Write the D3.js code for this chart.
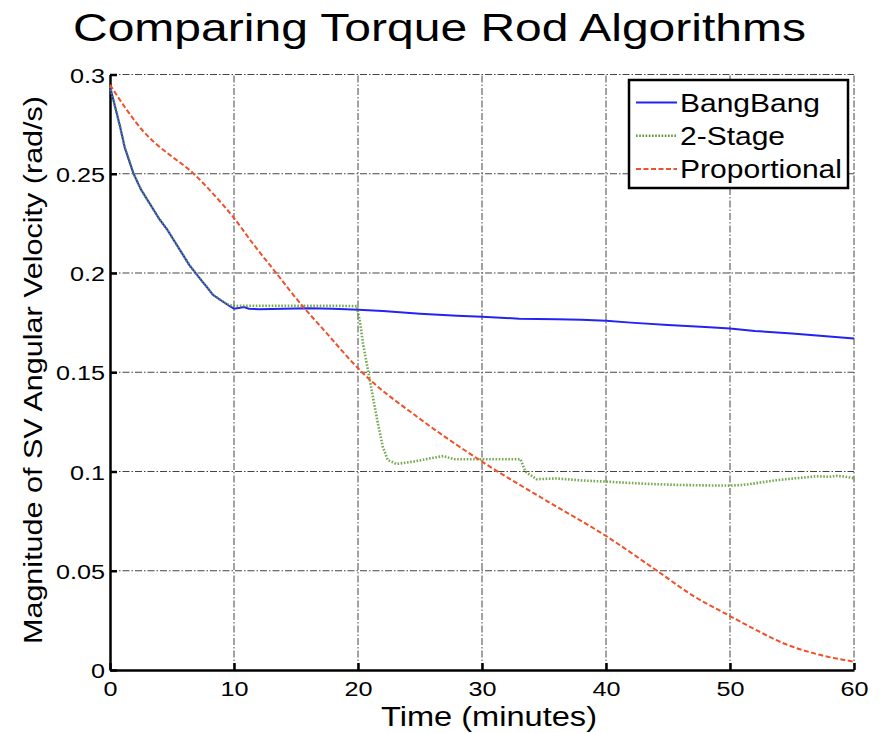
<!DOCTYPE html>
<html>
<head>
<meta charset="utf-8">
<script src="https://cdn.jsdelivr.net/npm/d3@7/dist/d3.min.js"></script>
<style>
  body { margin: 0; background: #fff; }
  svg { font-family: "Liberation Sans", Arial, sans-serif; }
</style>
</head>
<body>
<svg id="chart" width="884" height="733"></svg>
<script>
// values: [minutes, rad/s]
const bangBang = [
  [0, 0.294], [0.4, 0.284], [0.8, 0.274], [1.2, 0.263], [1.9, 0.250], [2.5, 0.242],
  [3.2, 0.235], [4.0, 0.227], [4.6, 0.222], [5.2, 0.216], [5.8, 0.210], [6.4, 0.204],
  [6.9, 0.200], [7.4, 0.196], [7.8, 0.193], [8.3, 0.189], [9.0, 0.186], [9.6, 0.1835],
  [10.0, 0.182], [10.5, 0.1825], [10.8, 0.1829], [11.2, 0.182], [12, 0.1818], [14, 0.182],
  [16, 0.1823], [18, 0.182], [20, 0.1815], [22, 0.1808], [25, 0.1795], [28, 0.1785],
  [30, 0.178], [33, 0.177], [36, 0.1767], [38, 0.1765], [40, 0.176], [42, 0.175],
  [45, 0.1738], [48, 0.1728], [50, 0.172], [52, 0.1708], [55, 0.1695], [58, 0.168], [60, 0.167]
];
const twoStage = [
  [0, 0.294], [0.4, 0.284], [0.8, 0.274], [1.2, 0.263], [1.9, 0.250], [2.5, 0.242],
  [3.2, 0.235], [4.0, 0.227], [4.6, 0.222], [5.2, 0.216], [5.8, 0.210], [6.4, 0.204],
  [6.9, 0.200], [7.4, 0.196], [7.8, 0.193], [8.3, 0.189], [9.0, 0.186], [9.6, 0.1838],
  [10.0, 0.1834], [12, 0.1835], [15, 0.1835], [18, 0.1835], [19.9, 0.1833],
  [20.16, 0.1755], [20.4, 0.1646], [20.8, 0.1512], [21.2, 0.1377], [21.6, 0.1243],
  [22.0, 0.1125], [22.4, 0.1058], [23.1, 0.1038], [24.5, 0.105], [25.8, 0.1066],
  [26.9, 0.1078], [27.7, 0.1062], [30, 0.1062], [33.1, 0.1062], [33.5, 0.100],
  [34.4, 0.0961], [36, 0.0965], [38, 0.0955], [40, 0.0949], [42, 0.0942], [44, 0.0936],
  [46, 0.0932], [48, 0.093], [50, 0.0929], [51, 0.0932], [52, 0.094], [53, 0.095],
  [54, 0.0958], [55, 0.0964], [56, 0.097], [57, 0.0976], [58, 0.0973], [58.6, 0.0978],
  [59.3, 0.0974], [60, 0.0966]
];
const proportional = [
  [0, 0.2948], [1.35, 0.2822], [2.7, 0.2713], [3.8, 0.2646], [4.8, 0.2596], [6.7, 0.2503],
  [8.3, 0.240], [10, 0.2277], [11.5, 0.215], [13.2, 0.2016], [15.6, 0.1828], [17, 0.173],
  [20.4, 0.1495], [25, 0.1265], [30, 0.105], [35, 0.086], [40, 0.0675], [44, 0.0505],
  [47, 0.0375], [50, 0.0272], [52, 0.0205], [54.3, 0.0135], [57, 0.008], [60, 0.0042]
];
const xTicks = [0, 10, 20, 30, 40, 50, 60];
const yTicks = [0, 0.05, 0.1, 0.15, 0.2, 0.25, 0.3];
const seriesNames = ['BangBang', '2-Stage', 'Proportional'];

const svg = d3.select('#chart');
const x = d3.scaleLinear().domain([0, 60]).range([110, 854]);
const y = d3.scaleLinear().domain([0, 0.3]).range([670, 74.5]);
const stretch = 1.2;

// grid
const grid = svg.append('g').attr('stroke', '#444').attr('stroke-width', 1)
  .attr('stroke-dasharray', '7,2,1.5,2');
grid.selectAll('.gx').data(xTicks.slice(1)).enter().append('line')
  .attr('x1', d => x(d)).attr('x2', d => x(d)).attr('y1', y(0)).attr('y2', y(0.3));
grid.selectAll('.gy').data(yTicks.slice(1)).enter().append('line')
  .attr('x1', x(0)).attr('x2', x(60)).attr('y1', d => y(d)).attr('y2', d => y(d));

// axes with inward ticks
const xAxis = svg.append('g').attr('transform', `translate(0,${y(0)})`)
  .call(d3.axisBottom(x).tickValues(xTicks).tickSizeInner(-7).tickSizeOuter(0).tickPadding(0).tickFormat(d3.format('d')));
const yAxis = svg.append('g').attr('transform', `translate(${x(0)},0)`)
  .call(d3.axisLeft(y).tickValues(yTicks).tickSizeInner(-7).tickSizeOuter(0).tickPadding(0).tickFormat(d => d === 0 ? '0' : String(+d.toFixed(2))));
[xAxis, yAxis].forEach(a => {
  a.select('.domain').attr('stroke', '#000').attr('stroke-width', 2.5);
  a.selectAll('.tick line').attr('stroke', '#000').attr('stroke-width', 2.5);
  a.selectAll('.tick text').attr('fill', '#000').attr('font-size', 21)
    .attr('font-family', '"Liberation Sans", Arial, sans-serif');
});
xAxis.selectAll('.tick text').attr('y', 0).attr('dy', 0)
  .attr('transform', `translate(0,25.5) scale(${stretch},1)`);
yAxis.selectAll('.tick text').attr('x', 0).attr('dy', 0)
  .attr('transform', `translate(-5,7.5) scale(${stretch},1)`);

// lines
const line = d3.line().x(d => x(d[0])).y(d => y(d[1]));
svg.append('path').datum(bangBang).attr('d', line)
  .attr('fill', 'none').attr('stroke', '#2323f2').attr('stroke-width', 2);
svg.append('path').datum(twoStage).attr('d', line)
  .attr('fill', 'none').attr('stroke', '#5e9a34').attr('stroke-width', 2.6)
  .attr('stroke-dasharray', '1.6,1.6').attr('opacity', 0.85);
svg.append('path').datum(proportional).attr('d', line.curve(d3.curveMonotoneX))
  .attr('fill', 'none').attr('stroke', '#f0502a').attr('stroke-width', 2)
  .attr('stroke-dasharray', '5,2.5');

// legend
const legend = svg.append('g');
legend.append('rect').attr('x', 629).attr('y', 80).attr('width', 219).attr('height', 108)
  .attr('fill', '#fff').attr('stroke', '#000').attr('stroke-width', 2.5);
const legStyles = [
  { color: '#2323f2', dash: null, w: 2 },
  { color: '#5e9a34', dash: '1.6,1.6', w: 2.6 },
  { color: '#f0502a', dash: '5,2.5', w: 2 }
];
const legWidths = [140, 105, 162];
seriesNames.forEach((name, i) => {
  const base = 111.5 + i * 33.2;
  legend.append('line').attr('x1', 636).attr('x2', 677).attr('y1', base - 9).attr('y2', base - 9)
    .attr('stroke', legStyles[i].color).attr('stroke-width', legStyles[i].w)
    .attr('stroke-dasharray', legStyles[i].dash);
  legend.append('text').attr('x', 680).attr('y', base).attr('font-size', 25.5)
    .attr('textLength', legWidths[i]).attr('lengthAdjust', 'spacingAndGlyphs')
    .text(name);
});

// titles
svg.append('text').attr('x', 439.5).attr('y', 41).attr('text-anchor', 'middle')
  .attr('font-size', 38).attr('textLength', 733).attr('lengthAdjust', 'spacingAndGlyphs')
  .text('Comparing Torque Rod Algorithms');
svg.append('text').attr('x', 489).attr('y', 725.5).attr('text-anchor', 'middle')
  .attr('font-size', 27).attr('textLength', 216).attr('lengthAdjust', 'spacingAndGlyphs')
  .text('Time (minutes)');
svg.append('text').attr('transform', 'translate(42,370) rotate(-90)').attr('text-anchor', 'middle')
  .attr('font-size', 26).attr('textLength', 548).attr('lengthAdjust', 'spacingAndGlyphs')
  .text('Magnitude of SV Angular Velocity (rad/s)');
</script>
</body>
</html>
